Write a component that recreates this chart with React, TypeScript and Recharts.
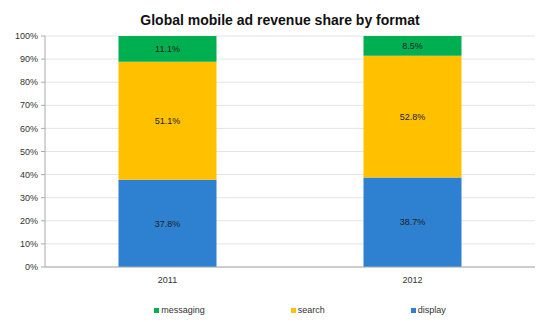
import React from 'react';
import { BarChart, Bar, XAxis, YAxis, CartesianGrid, Legend, LabelList } from 'recharts';

const categories = ['2011', '2012'];
const display = [37.8, 38.7];
const search = [51.1, 52.8];
const messaging = [11.1, 8.5];
const yTicks = [0, 10, 20, 30, 40, 50, 60, 70, 80, 90, 100];

const seriesNames = ['messaging', 'search', 'display'];
const colors: Record<string, string> = { messaging: '#00B050', search: '#FFC000', display: '#2E80D0' };

const data = categories.map((c, i) => ({ year: c, display: display[i], search: search[i], messaging: messaging[i] }));

const font = '"Liberation Sans", Arial, sans-serif';

const LegendContent = () => (
  <div style={{ display: 'flex', justifyContent: 'center', gap: 86, fontFamily: font, fontSize: 9, color: '#333', paddingLeft: 40, height: 14 }}>
    {seriesNames.map((n) => (
      <div key={n} style={{ display: 'flex', alignItems: 'center' }}>
        <span style={{ width: 5, height: 5, background: colors[n], display: 'inline-block', marginRight: 2 }} />
        <span>{n}</span>
      </div>
    ))}
  </div>
);

export default function App() {
  const label = (v: any) => `${v}%`;
  return (
    <div style={{ position: 'absolute', left: 0, top: 0, width: 560, height: 322, background: '#fff' }}>
      <div style={{ position: 'absolute', top: 12, left: 0, width: 560, textAlign: 'center', fontFamily: font, fontWeight: 'bold', fontSize: 14, color: '#111' }}>
        Global mobile ad revenue share by format
      </div>
      <BarChart width={560} height={322} data={data} margin={{ top: 36, right: 25, left: 0, bottom: 21 }} barCategoryGap="30%">
        <CartesianGrid vertical={false} stroke="#e4e4e4" />
        <XAxis dataKey="year" tickLine={false} axisLine={{ stroke: '#aaa' }} tick={{ fontSize: 9, fill: '#333', fontFamily: font }} tickMargin={4} height={20} />
        <YAxis domain={[0, 100]} ticks={yTicks} tickFormatter={(v) => `${v}%`} width={45} tickSize={4} tickLine={{ stroke: '#aaa' }} axisLine={{ stroke: '#aaa' }} tick={{ fontSize: 9, fill: '#333', fontFamily: font }} tickMargin={3} interval={0} />
        <Legend content={<LegendContent />} wrapperStyle={{ position: 'absolute', top: 303, left: 0, width: 560 }} />
        <Bar dataKey="display" stackId="a" fill={colors.display} isAnimationActive={false}>
          <LabelList dataKey="display" position="center" formatter={label} style={{ fontSize: 9, fill: '#222', fontFamily: font }} />
        </Bar>
        <Bar dataKey="search" stackId="a" fill={colors.search} isAnimationActive={false}>
          <LabelList dataKey="search" position="center" formatter={label} style={{ fontSize: 9, fill: '#222', fontFamily: font }} />
        </Bar>
        <Bar dataKey="messaging" stackId="a" fill={colors.messaging} isAnimationActive={false}>
          <LabelList dataKey="messaging" position="center" formatter={label} style={{ fontSize: 9, fill: '#222', fontFamily: font }} />
        </Bar>
      </BarChart>
    </div>
  );
}
